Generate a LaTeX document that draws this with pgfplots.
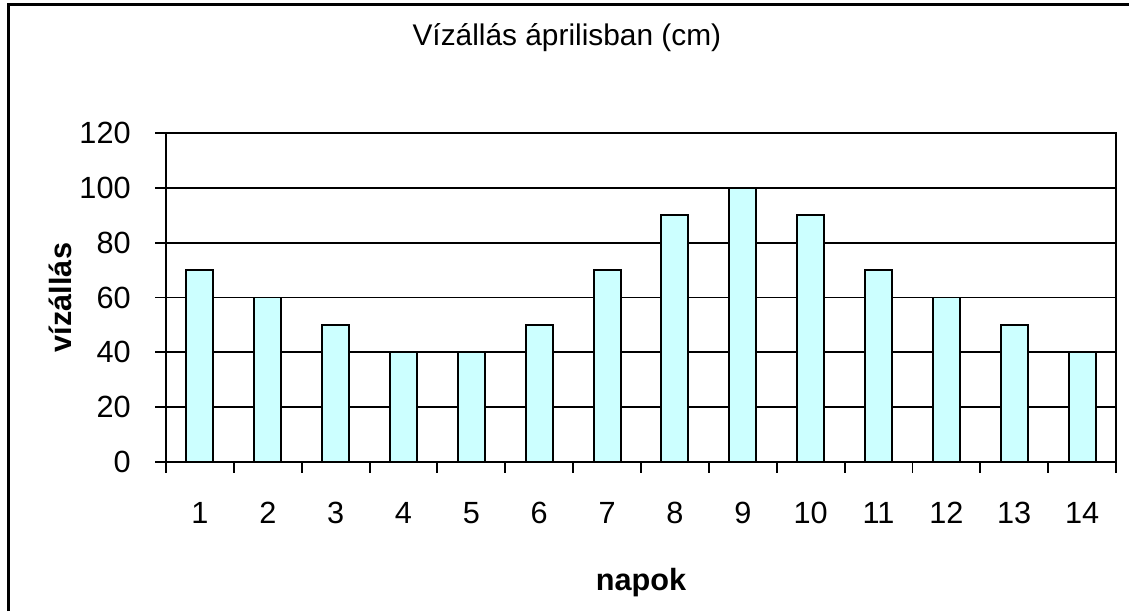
\documentclass[border=0pt]{standalone}
\usepackage{pgfplots}
\pgfplotsset{compat=1.18}
\usepackage{fontspec}
\setmainfont{Liberation Sans}
\definecolor{barcyan}{HTML}{CCFFFF}
\begin{document}
\begin{tikzpicture}[x=0.75pt,y=0.75pt]
\path[use as bounding box] (0,0) rectangle (1129,611);
\draw[line width=2.2pt] (8.5,0) -- (8.5,606.3) -- (1129,606.3);
\begin{axis}[
  at={(124.5pt,111.75pt)}, anchor=south west,
  scale only axis, width=712.5pt, height=246.75pt,
  xmin=0.5, xmax=14.5, ymin=0, ymax=120,
  xtick={1,...,14},
  minor xtick={0.5,1.5,...,14.5},
  major x tick style={draw=none},
  minor tick length=8pt,
  ytick={0,20,...,120},
  major tick length=8pt,
  tick align=outside,
  x tick style={line width=1.4pt, black},
  y tick style={line width=1.4pt, black},
  xtick pos=bottom, ytick pos=left,
  ymajorgrids,
  grid style={line width=1.4pt, black},
  axis line style={line width=1.5pt, black},
  /pgf/number format/assume math mode=true,
  tick label style={font=\fontsize{23}{27}\selectfont},
  xticklabel style={anchor=north, text height=16.5pt, text depth=0pt, yshift=-18pt},
  yticklabel style={xshift=-15pt},
  title={Vízállás áprilisban (cm)},
  title style={font=\fontsize{22.4}{26}\selectfont, at={(axis description cs:0.422,1.265)}, anchor=center},
  xlabel={\textbf{napok}},
  xlabel style={font=\fontsize{23}{27}\selectfont, at={(axis description cs:0.5,-0.3678)}, anchor=center},
  ylabel={\textbf{vízállás}},
  ylabel style={font=\fontsize{23}{27}\selectfont, at={(axis description cs:-0.1116,0.5)}, anchor=center},
]
\addplot[ybar, bar width=20.25pt, fill=barcyan, draw=black, line width=1.4pt]
  coordinates {(1,70) (2,60) (3,50) (4,40) (5,40) (6,50) (7,70) (8,90) (9,100) (10,90) (11,70) (12,60) (13,50) (14,40)};
\end{axis}
\end{tikzpicture}
\end{document}
